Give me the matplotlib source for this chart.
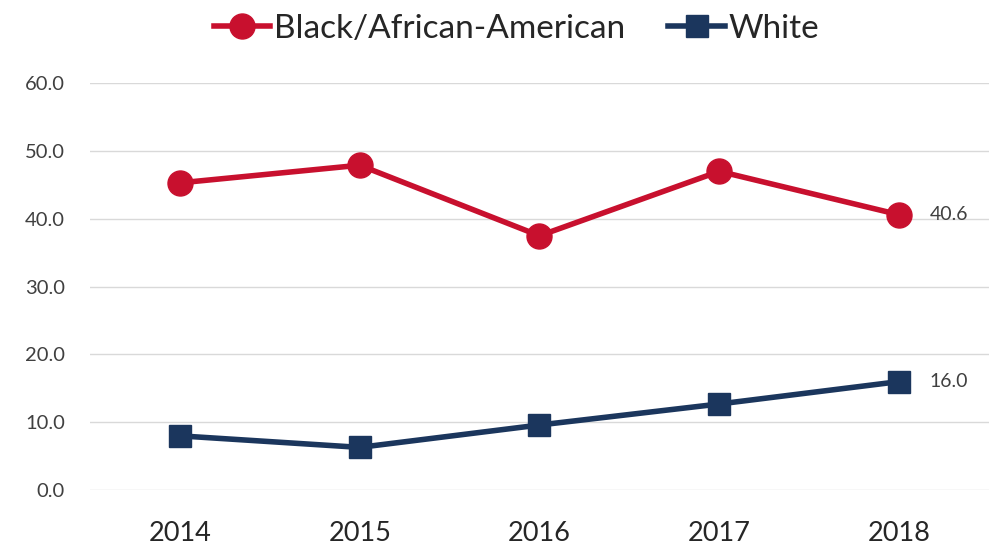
import matplotlib
matplotlib.use("Agg")
import matplotlib.pyplot as plt

years = ["2014", "2015", "2016", "2017", "2018"]
black = [45.3, 47.9, 37.5, 47.0, 40.6]
white = [8.0, 6.3, 9.6, 12.7, 16.0]
yticks = [0, 10, 20, 30, 40, 50, 60]

plt.rcParams['font.family'] = ['Lato', 'DejaVu Sans']
red = '#C8102E'
navy = '#1B365D'

fig = plt.figure(figsize=(9.89, 5.47), dpi=100)
ax = fig.add_axes([0.091, 0.104, 0.909, 0.744])
x = list(range(len(years)))
ax.plot(x, black, color=red, lw=4, marker='o', ms=18, label='Black/African-American', zorder=3)
ax.plot(x, white, color=navy, lw=4, marker='s', ms=16, label='White', zorder=3)
ax.text(x[-1] + 0.17, black[-1], f"{black[-1]:.1f}", va='center', ha='left', fontsize=14, color='#404040')
ax.text(x[-1] + 0.17, white[-1], f"{white[-1]:.1f}", va='center', ha='left', fontsize=14, color='#404040')
ax.set_xlim(-0.5, 4.5)
ax.set_ylim(0, 60)
ax.set_yticks(yticks)
ax.set_yticklabels([f"{v:.1f}" for v in yticks], fontsize=14.5, color='#404040')
ax.set_xticks(x)
ax.set_xticklabels(years, fontsize=19.5, color='#262626')
ax.grid(axis='y', color='#D9D9D9', lw=1)
ax.set_axisbelow(True)
for s in ax.spines.values():
    s.set_visible(False)
ax.tick_params(length=0)
ax.tick_params(axis='y', pad=18)
ax.tick_params(axis='x', pad=22)
fig.legend(loc='upper center', bbox_to_anchor=(0.522, 1.03), ncol=2, frameon=False, fontsize=24,
           handlelength=1.7, handletextpad=0.1, columnspacing=1.3, labelcolor='#262626')
fig.savefig('out.png', dpi=100)
